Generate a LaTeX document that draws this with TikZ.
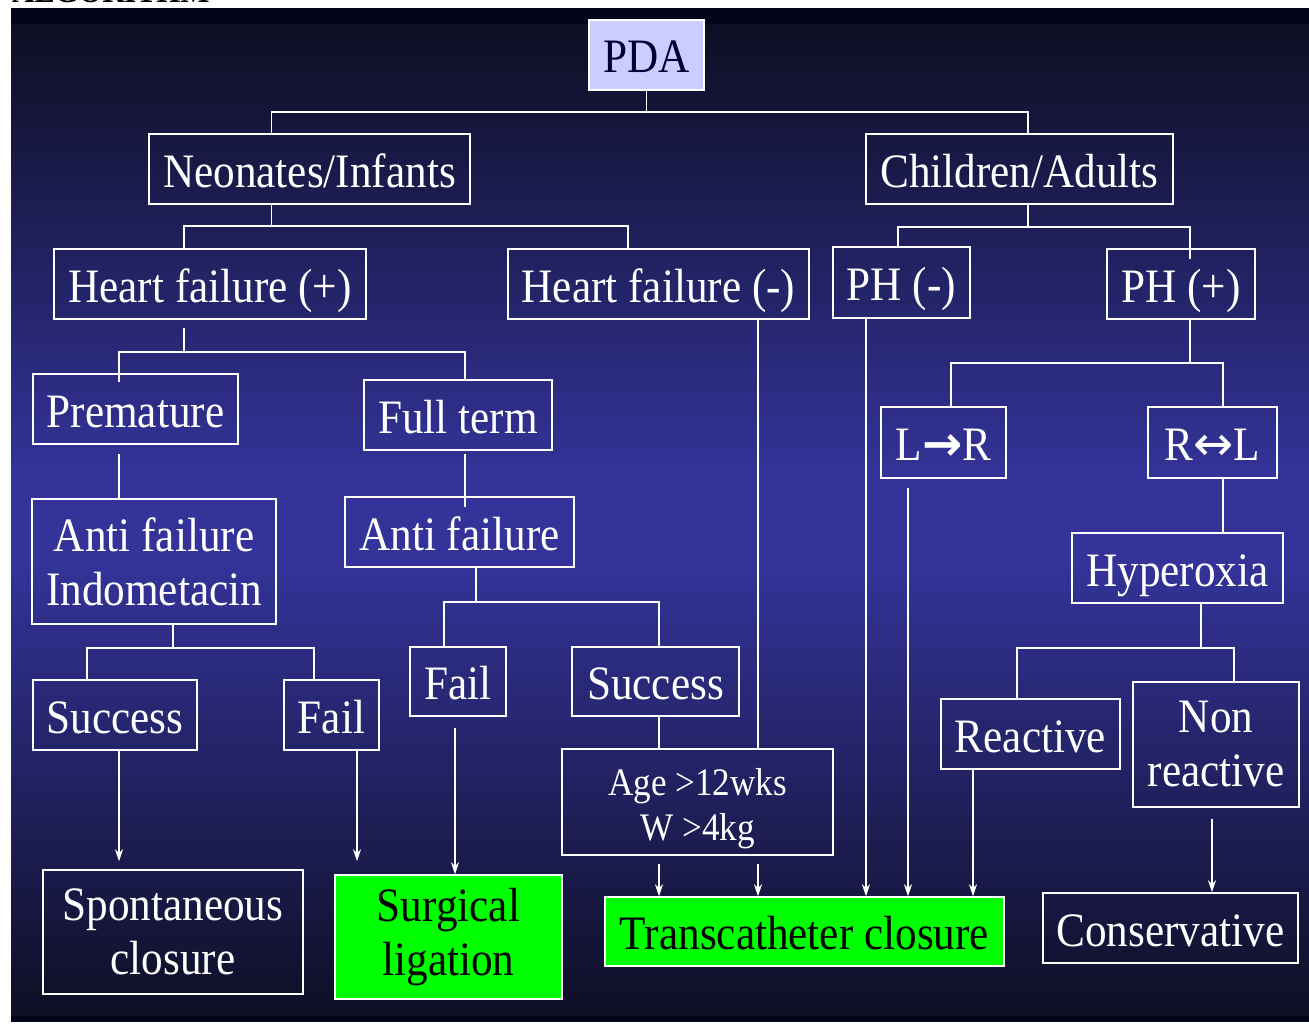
\documentclass[tikz,border=0pt]{standalone}
\usepackage{fontspec}
\setmainfont{Liberation Serif}[FakeStretch=0.9]
\newfontfamily\arrowfont{DejaVu Sans}
\usetikzlibrary{arrows.meta}
\definecolor{slide}{HTML}{333399}
\definecolor{slidedark}{HTML}{0E0E24}
\definecolor{slideedge}{HTML}{03031A}
\definecolor{pdafill}{HTML}{CCCCFF}
\definecolor{pdatext}{HTML}{000033}
\definecolor{okgreen}{HTML}{00FF00}
\tikzset{
  box/.style={draw=white, line width=1.5pt, text=white, align=center, inner sep=0pt,
    minimum height=70pt, text height=46pt, text depth=10pt, font=\fontsize{48}{54}\selectfont},
  twoline/.style={text height=, text depth=},
  greenbox/.style={box, fill=okgreen, text=black},
  link/.style={draw=white, line width=1.8pt},
  arr/.style={link, -{Stealth[length=12pt,width=8pt]}},
}
\begin{document}
\begin{tikzpicture}[x=1pt, y=-1pt]
\useasboundingbox (0,0) rectangle (1309,1025);
% slide background
\fill[white] (0,0) rectangle (1309,1025);
\node[anchor=base west, inner sep=0pt, font=\bfseries\fontsize{34}{34}\selectfont] (title) at (12,3) {ALGORITHM};
\foreach \y in {24,32,...,1008}{
  \pgfmathsetmacro{\shadep}{\y<470 ? (\y-24)/446*100 : (\y<560 ? 100 : (1016-\y)/456*100)}
  \fill[slide!\shadep!slidedark] (11,\y) rectangle (1309,\y+8.6);
}
\fill[slideedge] (11,8) rectangle (1309,24);
\fill[slideedge] (11,1016) rectangle (1309,1022);

% boxes
\node[box, fill=pdafill, text=pdatext, minimum width=115pt] (pda) at (646.5,55) {PDA};
\node[box, minimum width=321pt] (neo) at (309.5,169) {Neonates/Infants};
\node[box, minimum width=307pt] (chi) at (1019.5,169) {Children/Adults};
\node[box, minimum width=312pt] (hfp) at (210,284) {Heart failure (+)};
\node[box, minimum width=301pt] (hfm) at (658.5,284) {Heart failure (-)};
\node[box, minimum width=137pt, minimum height=71pt] (phm) at (901.5,282.5) {PH (-)};
\node[box, minimum width=148pt] (php) at (1181,284) {PH (+)};
\node[box, minimum width=205pt] (pre) at (135.5,409) {Premature};
\node[box, minimum width=188pt] (ful) at (458,415) {Full term};
\node[box, minimum width=125pt, minimum height=71pt] (lr) at (943.5,442.5) {L{\arrowfont\bfseries →}R};
\node[box, minimum width=129pt, minimum height=71pt] (rl) at (1212.5,442.5) {R{\arrowfont ↔}L};
\node[box, twoline, minimum width=244pt, minimum height=125pt] (ind) at (154,561.5) {Anti failure\\Indometacin};
\node[box, minimum width=229pt] (anf) at (459.5,532) {Anti failure};
\node[box, minimum width=211pt] (hyp) at (1177.5,568) {Hyperoxia};
\node[box, minimum width=96pt, minimum height=69pt] (fa2) at (458,681.5) {Fail};
\node[box, minimum width=167pt, minimum height=69pt] (su2) at (655.5,681.5) {Success};
\node[box, minimum width=164pt] (su1) at (115,715) {Success};
\node[box, minimum width=95pt] (fa1) at (331.5,715) {Fail};
\node[box, minimum width=179pt] (rea) at (1030.5,734) {Reactive};
\node[box, twoline, minimum width=166pt, minimum height=125pt] (non) at (1216,744.5) {Non\\reactive};
\node[box, twoline, minimum width=271pt, minimum height=106pt, font=\fontsize{39}{45}\selectfont] (age) at (697.5,802) {\rule{0pt}{40pt}Age {>}12wks\\W {>}4kg};
\node[box, twoline, minimum width=260pt, minimum height=124pt] (spo) at (173,932) {Spontaneous\\closure};
\node[greenbox, twoline, minimum width=227pt, minimum height=124pt] (sur) at (448.5,937) {Surgical\\ligation};
\node[greenbox, minimum width=399pt, minimum height=69pt] (tra) at (804.5,931.5) {Transcatheter closure};
\node[box, minimum width=255pt] (con) at (1170.5,928) {Conservative};

% tree lines
\draw[link] (pda.south) -- ++(0,21) -| ([xshift=-38pt]neo.north);
\draw[link] (pda.south) -- ++(0,21) -| ([xshift=8.5pt]chi.north);
\draw[link] ([xshift=-38pt]neo.south) -- ++(0,21) -| ([xshift=-26pt]hfp.north);
\draw[link] ([xshift=-38pt]neo.south) -- ++(0,21) -| ([xshift=-30.5pt]hfm.north);
\draw[link] ([xshift=8.5pt]chi.south) -- ++(0,22) -| ([xshift=-3.5pt]phm.north);
\draw[link, shorten >=-11pt] ([xshift=8.5pt]chi.south) -- ++(0,22) -| ([xshift=9pt]php.north);
\draw[link, shorten <=8pt, shorten >=-9pt] ([xshift=-26pt]hfp.south) -- ++(0,32) -| ([xshift=-16.5pt]pre.north);
\draw[link] ([xshift=-26pt]hfp.south) ++(0,8) -- ++(0,24) -| ([xshift=7pt]ful.north);
\draw[link, shorten <=9pt] ([xshift=-16.5pt]pre.south) -- ([xshift=-35pt]ind.north);
\draw[link, shorten <=3pt, shorten >=-11pt] ([xshift=7pt]ful.south) -- ([xshift=5.5pt]anf.north);
\draw[link] ([xshift=19pt]ind.south) -- ++(0,23) -| ([xshift=-28pt]su1.north);
\draw[link] ([xshift=19pt]ind.south) -- ++(0,23) -| ([xshift=-17.5pt]fa1.north);
\draw[link] ([xshift=16.5pt]anf.south) -- ++(0,34) -| ([xshift=-14pt]fa2.north);
\draw[link] ([xshift=16.5pt]anf.south) -- ++(0,34) -| ([xshift=3.5pt]su2.north);
\draw[link] ([xshift=3.5pt]su2.south) -- ([xshift=-38.5pt]age.north);
\draw[link] ([xshift=99.5pt]hfm.south) -- ([xshift=60.5pt]age.north);
\draw[link] ([xshift=9pt]php.south) -- ++(0,43) -| ([xshift=7.5pt]lr.north);
\draw[link] ([xshift=9pt]php.south) -- ++(0,43) -| ([xshift=10.5pt]rl.north);
\draw[link] ([xshift=10.5pt]rl.south) -- ([xshift=45.5pt]hyp.north);
\draw[link] ([xshift=23.5pt]hyp.south) -- ++(0,44) -| ([xshift=-13.5pt]rea.north);
\draw[link] ([xshift=23.5pt]hyp.south) -- ++(0,44) -| ([xshift=18pt]non.north);

% arrows to outcomes
\draw[arr, shorten <=8pt] ([xshift=-38.5pt]age.south) -- ([xshift=-145.5pt]tra.north);
\draw[arr, shorten <=8pt] ([xshift=60.5pt]age.south) -- ([xshift=-46.5pt]tra.north);
\draw[arr] ([xshift=-35.5pt]phm.south) -- ([xshift=61.5pt]tra.north);
\draw[arr, shorten <=9pt] ([xshift=-35.5pt]lr.south) -- ([xshift=103.5pt]tra.north);
\draw[arr] ([xshift=-57.5pt]rea.south) -- ([xshift=168.5pt]tra.north);
\draw[arr, shorten <=11pt] ([xshift=-4pt]non.south) -- ([xshift=41.5pt]con.north);
\draw[arr, shorten >=8pt] ([xshift=4pt]su1.south) -- ([xshift=-54pt]spo.north);
\draw[arr, shorten >=13pt] ([xshift=25.5pt]fa1.south) -- ([xshift=-91.5pt]sur.north);
\draw[arr, shorten <=11pt] ([xshift=-3pt]fa2.south) -- ([xshift=6.5pt]sur.north);
\end{tikzpicture}
\end{document}
